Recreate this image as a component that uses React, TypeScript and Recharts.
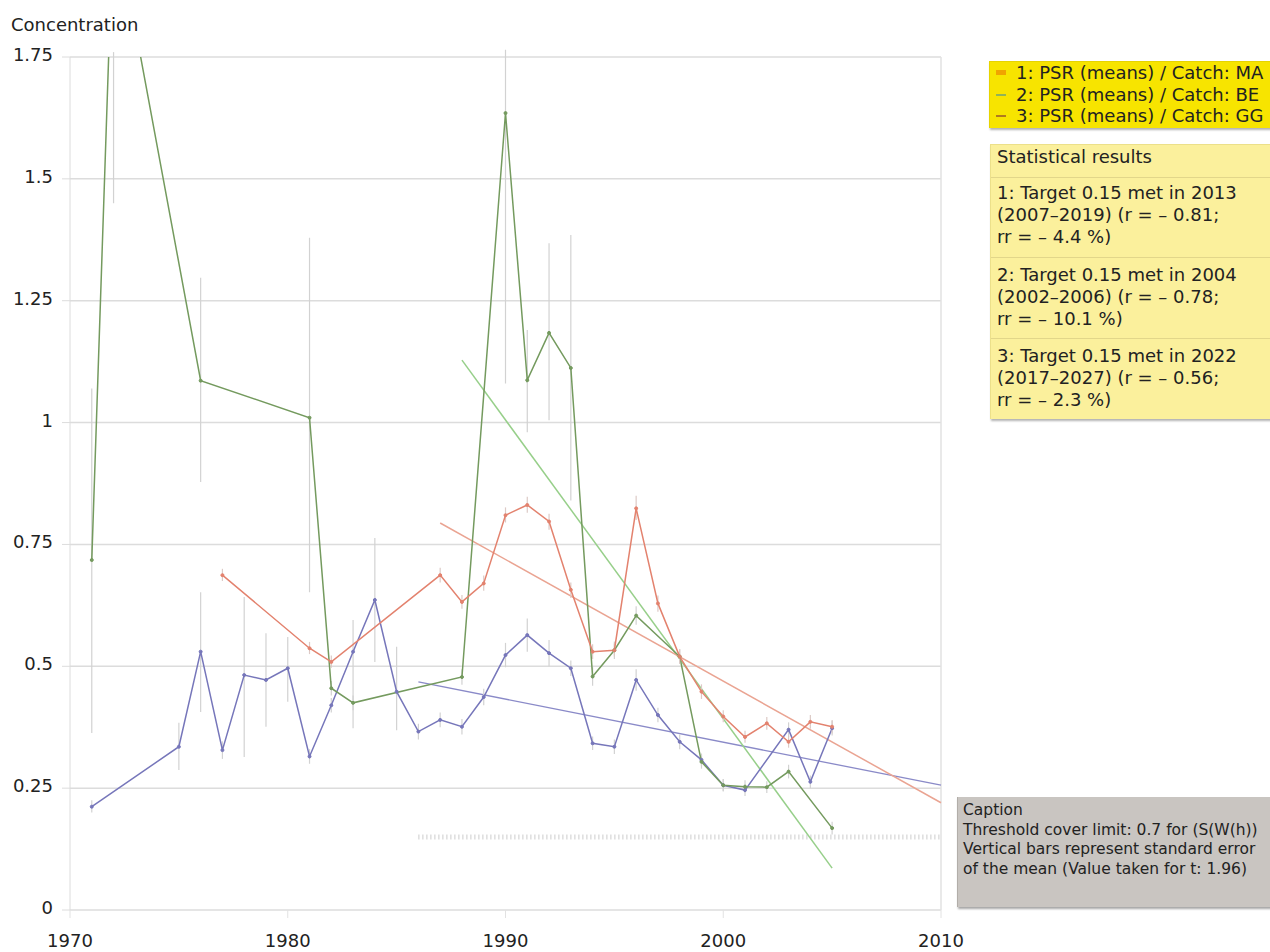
import React from "react";
import {
  LineChart,
  Line,
  XAxis,
  YAxis,
  CartesianGrid,
  ErrorBar,
  ReferenceLine,
} from "recharts";

// 1: PSR (means) / Catch: MA
const yearsMA = [1977, 1981, 1982, 1987, 1988, 1989, 1990, 1991, 1992, 1993, 1994, 1995, 1996, 1997, 1998, 1999, 2000, 2001, 2002, 2003, 2004, 2005];
const meansMA = [0.687, 0.537, 0.509, 0.687, 0.632, 0.67, 0.81, 0.831, 0.797, 0.657, 0.53, 0.533, 0.824, 0.629, 0.52, 0.448, 0.397, 0.355, 0.383, 0.345, 0.386, 0.376];
const lowMA = [0.675, 0.525, 0.497, 0.672, 0.618, 0.655, 0.795, 0.815, 0.78, 0.64, 0.515, 0.52, 0.8, 0.612, 0.505, 0.433, 0.385, 0.343, 0.37, 0.333, 0.372, 0.362];
const highMA = [0.7, 0.55, 0.522, 0.702, 0.646, 0.686, 0.826, 0.848, 0.813, 0.672, 0.545, 0.547, 0.85, 0.645, 0.535, 0.463, 0.41, 0.368, 0.396, 0.358, 0.4, 0.39];

// 2: PSR (means) / Catch: BE
const yearsBE = [1971, 1972, 1976, 1981, 1982, 1983, 1988, 1990, 1991, 1992, 1993, 1994, 1995, 1996, 1998, 1999, 2000, 2001, 2002, 2003, 2005];
const meansBE = [0.718, 2.05, 1.086, 1.01, 0.455, 0.425, 0.478, 1.635, 1.087, 1.184, 1.112, 0.479, 0.533, 0.604, 0.52, 0.304, 0.256, 0.253, 0.252, 0.284, 0.168];
const lowBE = [0.363, 1.45, 0.878, 0.652, 0.44, 0.41, 0.462, 1.08, 0.98, 1.005, 0.84, 0.46, 0.515, 0.585, 0.505, 0.29, 0.243, 0.24, 0.24, 0.27, 0.155];
const highBE = [1.07, 1.76, 1.297, 1.379, 0.47, 0.44, 0.494, 1.765, 1.19, 1.368, 1.385, 0.498, 0.551, 0.623, 0.535, 0.318, 0.269, 0.266, 0.264, 0.298, 0.181];

// 3: PSR (means) / Catch: GG
const yearsGG = [1971, 1975, 1976, 1977, 1978, 1979, 1980, 1981, 1982, 1983, 1984, 1985, 1986, 1987, 1988, 1989, 1990, 1991, 1992, 1993, 1994, 1995, 1996, 1997, 1998, 1999, 2000, 2001, 2003, 2004, 2005];
const meansGG = [0.212, 0.335, 0.53, 0.328, 0.482, 0.472, 0.496, 0.315, 0.42, 0.53, 0.636, 0.448, 0.366, 0.39, 0.376, 0.437, 0.523, 0.564, 0.527, 0.496, 0.342, 0.335, 0.472, 0.4, 0.345, 0.308, 0.256, 0.246, 0.37, 0.263, 0.373];
const lowGG = [0.2, 0.287, 0.406, 0.31, 0.314, 0.376, 0.427, 0.3, 0.405, 0.373, 0.509, 0.369, 0.35, 0.375, 0.36, 0.42, 0.498, 0.53, 0.5, 0.48, 0.328, 0.32, 0.45, 0.385, 0.33, 0.295, 0.244, 0.234, 0.355, 0.25, 0.358];
const highGG = [0.225, 0.384, 0.652, 0.346, 0.642, 0.568, 0.56, 0.33, 0.435, 0.595, 0.763, 0.54, 0.382, 0.405, 0.392, 0.454, 0.548, 0.598, 0.554, 0.512, 0.356, 0.35, 0.494, 0.415, 0.36, 0.321, 0.268, 0.258, 0.385, 0.276, 0.388];

// regression lines
const trendYearsMA = [1987, 2010];
const trendMA = [0.794, 0.22];
const trendYearsBE = [1988, 2005];
const trendBE = [1.128, 0.086];
const trendYearsGG = [1986, 2010];
const trendGG = [0.468, 0.256];

// target line
const targetYears = [1986, 2010];
const targetValue = 0.15;

const xTicks = [1970, 1980, 1990, 2000, 2010];
const yTicks = [0, 0.25, 0.5, 0.75, 1, 1.25, 1.5, 1.75];

const seriesNames = [
  "1: PSR (means) / Catch: MA",
  "2: PSR (means) / Catch: BE",
  "3: PSR (means) / Catch: GG",
];
const legendColors = ["#f0a400", "#8fb35a", "#b07a1e"];

const statsLines = [
  ["1: Target 0.15 met in 2013", "(2007\u20132019) (r = \u2013 0.81;", "rr = \u2013 4.4 %)"],
  ["2: Target 0.15 met in 2004", "(2002\u20132006) (r = \u2013 0.78;", "rr = \u2013 10.1 %)"],
  ["3: Target 0.15 met in 2022", "(2017\u20132027) (r = \u2013 0.56;", "rr = \u2013 2.3 %)"],
];

const captionLines = [
  "Caption",
  "Threshold cover limit: 0.7 for (S(W(h))",
  "Vertical bars represent standard error",
  "of the mean (Value taken for t: 1.96)",
];

const RED = "#e3826e";
const GREEN = "#749a5e";
const BLUE = "#7676ba";
const FONT = "'DejaVu Sans', Verdana, sans-serif";

function withErrors(years: number[], means: number[], low: number[], high: number[]) {
  return years.map((year, i) => ({
    year,
    v: means[i],
    err: [means[i] - low[i], high[i] - means[i]],
  }));
}

function pairs(years: number[], values: number[]) {
  return years.map((year, i) => ({ year, v: values[i] }));
}

const dataMA = withErrors(yearsMA, meansMA, lowMA, highMA);
const dataBE = withErrors(yearsBE, meansBE, lowBE, highBE);
const dataGG = withErrors(yearsGG, meansGG, lowGG, highGG);
const target = targetYears.map((year) => ({ year, v: targetValue }));

function YTick({ x, y, payload }: any) {
  return (
    <text x={x} y={y + 4} textAnchor="end" fontSize={18} fill="#222" fontFamily={FONT}>
      {String(payload.value)}
    </text>
  );
}

function XTick({ x, y, payload }: any) {
  return (
    <text x={x} y={y + 19} textAnchor="middle" fontSize={18} fill="#222" fontFamily={FONT}>
      {String(payload.value)}
    </text>
  );
}

export default function App() {
  return (
    <div
      style={{
        position: "absolute",
        left: 0,
        top: 0,
        width: 1270,
        height: 952,
        overflow: "hidden",
        background: "#fff",
        fontFamily: FONT,
        color: "#222",
      }}
    >
      <LineChart width={1270} height={952} margin={{ top: 57, right: 329, bottom: 0, left: 8 }}>
        <CartesianGrid vertical={false} stroke="#dcdcdc" strokeWidth={1.5} />
        <XAxis
          type="number"
          dataKey="year"
          domain={[1970, 2010]}
          ticks={xTicks}
          height={42}
          axisLine={false}
          tickLine={{ stroke: "#e2e2e2" }}
          tickSize={8}
          tickMargin={10}
          tick={<XTick />}
        />
        <YAxis
          type="number"
          domain={[0, 1.75]}
          ticks={yTicks}
          allowDataOverflow
          width={62}
          axisLine={{ stroke: "#dcdcdc" }}
          tickLine={{ stroke: "#dcdcdc" }}
          tickSize={8}
          tickMargin={9}
          tick={<YTick />}
        />
        <ReferenceLine x={2010} stroke="#e2e2e2" strokeWidth={1.5} />

        <Line
          data={target}
          dataKey="v"
          stroke="#cccccc"
          strokeWidth={5}
          strokeDasharray="1 3"
          dot={false}
          isAnimationActive={false}
        />
        <Line data={pairs(trendYearsGG, trendGG)} dataKey="v" stroke="#8a8ac8" strokeWidth={1.3} dot={false} isAnimationActive={false} />
        <Line data={pairs(trendYearsBE, trendBE)} dataKey="v" stroke="#97cf8a" strokeWidth={1.5} dot={false} isAnimationActive={false} />
        <Line data={pairs(trendYearsMA, trendMA)} dataKey="v" stroke="#eaa492" strokeWidth={1.5} dot={false} isAnimationActive={false} />

        <Line
          data={dataGG}
          dataKey="v"
          stroke={BLUE}
          strokeWidth={1.5}
          dot={{ r: 1.5, fill: BLUE, stroke: BLUE, strokeWidth: 1 }}
          isAnimationActive={false}
        >
          <ErrorBar dataKey="err" width={0} stroke="#d2d2d2" strokeWidth={1.2} direction="y" isAnimationActive={false} />
        </Line>
        <Line
          data={dataBE}
          dataKey="v"
          stroke={GREEN}
          strokeWidth={1.5}
          dot={{ r: 1.5, fill: GREEN, stroke: GREEN, strokeWidth: 1 }}
          isAnimationActive={false}
        >
          <ErrorBar dataKey="err" width={0} stroke="#d2d2d2" strokeWidth={1.2} direction="y" isAnimationActive={false} />
        </Line>
        <Line
          data={dataMA}
          dataKey="v"
          stroke={RED}
          strokeWidth={1.5}
          dot={{ r: 1.5, fill: RED, stroke: RED, strokeWidth: 1 }}
          isAnimationActive={false}
        >
          <ErrorBar dataKey="err" width={0} stroke="#dccac6" strokeWidth={1.2} direction="y" isAnimationActive={false} />
        </Line>
      </LineChart>

      <div style={{ position: "absolute", left: 11, top: 16, fontSize: 18, lineHeight: 1 }}>Concentration</div>

      {/* legend */}
      <div
        style={{
          position: "absolute",
          left: 989,
          top: 61,
          width: 290,
          height: 67,
          boxSizing: "border-box",
          background: "#f7e400",
          borderTop: "1px solid #e6d400",
          borderLeft: "1px solid #e6d400",
          boxShadow: "1px 2px 2px rgba(0,0,0,0.3)",
          fontSize: 18,
          lineHeight: "21.5px",
          whiteSpace: "nowrap",
        }}
      >
        {seriesNames.map((name, i) => (
          <div key={name} style={{ position: "relative", paddingLeft: 26 }}>
            <span
              style={{
                position: "absolute",
                left: 6,
                top: i === 0 ? 8 : 10,
                width: 10,
                height: i === 0 ? 5 : 2,
                background: legendColors[i],
              }}
            />
            {name}
          </div>
        ))}
      </div>

      {/* statistical results */}
      <div
        style={{
          position: "absolute",
          left: 990,
          top: 144,
          width: 290,
          boxSizing: "border-box",
          background: "#fbf09c",
          borderTop: "1px solid #ece08a",
          borderLeft: "1px solid #ece08a",
          boxShadow: "1px 2px 2px rgba(0,0,0,0.3)",
          fontSize: 18,
          lineHeight: "22px",
          whiteSpace: "nowrap",
        }}
      >
        <div style={{ padding: "1px 6px 9px", borderBottom: "1px solid #e2d68a" }}>Statistical results</div>
        {statsLines.map((lines, i) => (
          <div
            key={i}
            style={{
              padding: i === 0 ? "4px 6px 9px" : "6px 6px 8px",
              borderBottom: i < statsLines.length - 1 ? "1px solid #e2d68a" : "none",
            }}
          >
            {lines.map((l) => (
              <div key={l}>{l}</div>
            ))}
          </div>
        ))}
      </div>

      {/* caption */}
      <div
        style={{
          position: "absolute",
          left: 957,
          top: 797,
          width: 320,
          height: 110,
          boxSizing: "border-box",
          background: "#c9c5c1",
          borderLeft: "1px solid #b2aea9",
          boxShadow: "1px 2px 2px rgba(0,0,0,0.35)",
          padding: "4px 5px",
          fontSize: 15.5,
          lineHeight: "19.7px",
          whiteSpace: "nowrap",
        }}
      >
        {captionLines.map((l) => (
          <div key={l}>{l}</div>
        ))}
      </div>
    </div>
  );
}
